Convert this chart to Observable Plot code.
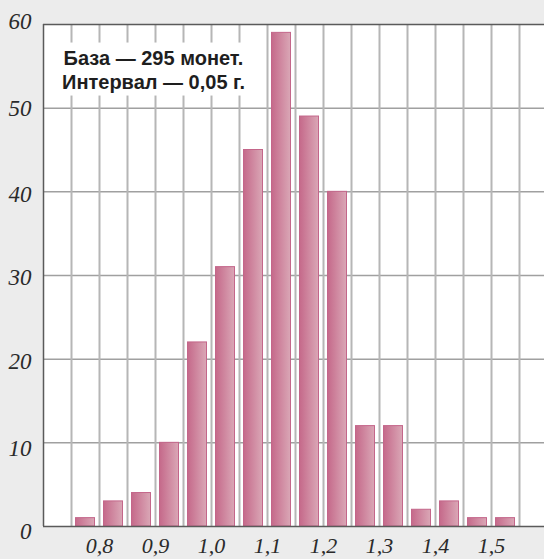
<!DOCTYPE html>
<html><head><meta charset="utf-8">
<script src="https://cdn.jsdelivr.net/npm/d3@7"></script>
<script src="https://cdn.jsdelivr.net/npm/@observablehq/plot@0.6"></script>
<style>html,body{margin:0;padding:0;background:#ececec;} #chart{width:544px;height:559px;overflow:hidden}</style>
</head><body><div id="chart"></div>
<script>
const binStart = [0.75,0.80,0.85,0.90,0.95,1.00,1.05,1.10,1.15,1.20,1.25,1.30,1.35,1.40,1.45,1.50];
const counts   = [1,3,4,10,22,31,45,59,49,40,12,12,2,3,1,1];
const binWidth = 0.05;
const xTicks = [0.8,0.9,1.0,1.1,1.2,1.3,1.4,1.5];
const yTicks = [0,10,20,30,40,50,60];
const notes = ["База — 295 монет.", "Интервал — 0,05 г."];

const data = binStart.map((s,i)=>({x1:s, x2:+(s+binWidth).toFixed(2), count:counts[i]}));
const gridX = binStart.concat([+(binStart[binStart.length-1]+binWidth).toFixed(2)]);
const fmt = d => d3.format(".1f")(d).replace(".", ",");
const serif = "'Liberation Serif','Times New Roman',serif";
const sans = "'Liberation Sans',Arial,sans-serif";
const yAxisStyle = {tickSize:0, tickPadding:12, fontSize:23, fontStyle:"italic", fontFamily:serif, fill:"#2a2a2a", label:null};

const plot = Plot.plot({
  width:544, height:559, marginLeft:43, marginRight:0, marginTop:24, marginBottom:33,
  style:{background:"transparent", overflow:"visible"},
  x:{domain:[0.7,1.6], range:[43,547]},
  y:{domain:[0,60]},
  marks:[
    Plot.frame({fill:"white", stroke:null}),
    Plot.ruleY(yTicks.filter(d=>d>0 && d<60), {stroke:"#a0a0a0", strokeWidth:1.5}),
    Plot.ruleX(gridX, {stroke:"#b6b6b6", strokeWidth:2}),
    Plot.text([notes.join("\n")], {frameAnchor:"top-left", dx:110, dy:23, textAnchor:"middle", lineAnchor:"top", lineHeight:1.2, fontSize:20, fontWeight:"bold", fontFamily:sans, fill:"#1e1e1e"}),
    Plot.rectY(data, {x1:"x1", x2:"x2", y:"count", insetLeft:4.5, insetRight:4.5, fill:"url(#barGrad)", stroke:"#c4668a", strokeWidth:1}),
    Plot.ruleY([0,60], {stroke:"#5a5a5a", strokeWidth:1.5}),
    Plot.ruleX([0.7], {stroke:"#5a5a5a", strokeWidth:1.5}),
    Plot.axisY(yTicks.filter(d => d <= 10), {...yAxisStyle, dy:5.5}),
    Plot.axisY(yTicks.filter(d => d > 10 && d < 50), {...yAxisStyle, dy:2.5}),
    Plot.axisY(yTicks.filter(d => d === 50), {...yAxisStyle, dy:0.5}),
    Plot.axisY(yTicks.filter(d => d === 60), {...yAxisStyle, dy:-3}),
    Plot.axisX(xTicks, {tickSize:0, tickPadding:11, tickFormat:fmt, fontSize:22, fontStyle:"italic", fontFamily:serif, fill:"#2a2a2a", label:null})
  ]
});
document.getElementById("chart").appendChild(plot);

const svg = d3.select(plot);
const grad = svg.insert("defs", ":first-child").append("linearGradient").attr("id","barGrad")
  .attr("x1","0").attr("x2","1").attr("y1","0").attr("y2","0");
grad.append("stop").attr("offset","0").attr("stop-color","#c5698a");
grad.append("stop").attr("offset","1").attr("stop-color","#daa7b6");

const noteText = svg.selectAll("text").filter(function(){ return this.textContent.indexOf("База") >= 0; });
if (!noteText.empty()) {
  const node = noteText.node();
  const bb = node.getBBox();
  d3.select(node.parentNode).insert("rect", () => node)
    .attr("transform", node.getAttribute("transform"))
    .attr("x", bb.x - 16).attr("y", bb.y - 4)
    .attr("width", bb.width + 20).attr("height", bb.height + 7)
    .attr("fill", "white");
}
</script>
</body></html>
